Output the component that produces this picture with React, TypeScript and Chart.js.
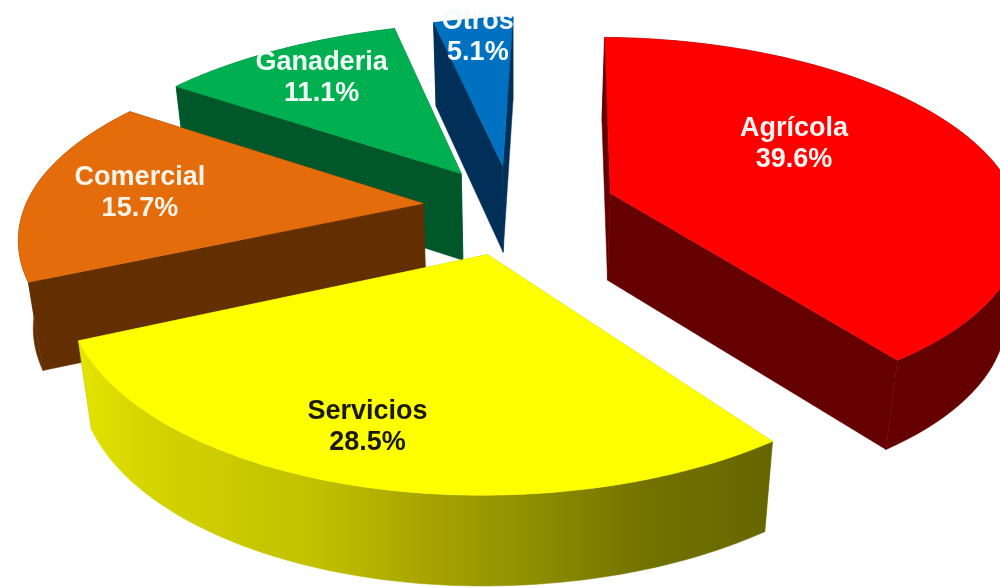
import React, { useEffect, useRef } from "react";
import { Chart, registerables } from "chart.js";

Chart.register(...registerables);

const categories = ["Agrícola", "Servicios", "Comercial", "Ganaderia", "Otros"];
const shares = [39.6, 28.5, 15.7, 11.1, 5.1];
const percentLabels = ["39.6%", "28.5%", "15.7%", "11.1%", "5.1%"];
const topColors = ["#ff0000", "#ffff00", "#e46c0a", "#00b050", "#0070c0"];
const sideColors = ["#640000", "#a8a800", "#632f00", "#00582a", "#003058"];
const labelColors = ["#fff4f0", "#1a1a00", "#fff4e8", "#f2fff6", "#f4fbff"];
const explodeOffsets = [62, 64, 58, 58, 58];
const yellowSideStops: [number, string][] = [
  [0, "#e4e400"],
  [0.1, "#d4d400"],
  [0.35, "#c0c000"],
  [0.5, "#a8a400"],
  [0.65, "#8f8f00"],
  [0.82, "#727200"],
  [1, "#666600"],
];
const labelReach = [0.565, 0.79, 0.725, 0.75, 0.86];
const labelTurn = [-13, 3, 0, 1, -1];

// Oblique, perspective view of the pie's plane.
const VIEW = {
  cx: 515,
  cy: 207,
  sx: 408,
  sy: 185,
  persp: 0.16,
  leftScale: 0.976,
  backLean: 20,
  shrink: 0.97,
  depth: 87,
  depthSlope: 3,
};
const RADIUS = 250;

function project(X: number, V: number, lower: boolean) {
  const f = 1 / (1 - VIEW.persp * V);
  let x = VIEW.sx * X * f * (X < 0 ? VIEW.leftScale : 1);
  let y = VIEW.sy * V * f;
  if (V < 0 && X < 0) {
    // the far-left part of the plane leans towards the centre
    x += VIEW.backLean * V * V * Math.min(1, -X / 0.2);
  }
  if (lower) {
    x *= VIEW.shrink;
    y += VIEW.depth + VIEW.depthSlope * V;
  }
  return { x: VIEW.cx + x, y: VIEW.cy + y };
}

const pie3d = {
  id: "pie3d",
  beforeDatasetDraw(chart: any) {
    const ctx: CanvasRenderingContext2D = chart.ctx;
    const arcs: any[] = chart.getDatasetMeta(0).data;
    const order = arcs
      .map((arc, i) => ({ arc, i, mid: (arc.startAngle + arc.endAngle) / 2 }))
      .sort((a, b) => Math.sin(a.mid) - Math.sin(b.mid));

    for (const { arc, i, mid } of order) {
      const e = (arc.options.offset || 0) / arc.outerRadius;
      const ax = e * Math.cos(mid);
      const av = e * Math.sin(mid);
      const rim: [number, number][] = [];
      const steps = 72;
      for (let s = 0; s <= steps; s++) {
        const t = arc.startAngle + ((arc.endAngle - arc.startAngle) * s) / steps;
        rim.push([ax + Math.cos(t), av + Math.sin(t)]);
      }
      const poly = (pts: { x: number; y: number }[], fill: any) => {
        ctx.beginPath();
        pts.forEach((p, n) => (n ? ctx.lineTo(p.x, p.y) : ctx.moveTo(p.x, p.y)));
        ctx.closePath();
        ctx.fillStyle = fill;
        ctx.fill();
        ctx.strokeStyle = fill;
        ctx.lineWidth = 0.5;
        ctx.stroke();
      };

      const a0 = project(ax, av, false);
      const a1 = project(ax, av, true);
      const first = rim[0];
      const last = rim[rim.length - 1];
      // radial walls
      poly([a0, project(first[0], first[1], false), project(first[0], first[1], true), a1], sideColors[i]);
      poly([a0, project(last[0], last[1], false), project(last[0], last[1], true), a1], sideColors[i]);
      // curved outer wall
      const upper = rim.map((p) => project(p[0], p[1], false));
      const lower = rim.map((p) => project(p[0], p[1], true)).reverse();
      let sideFill: any = sideColors[i];
      if (i === 1) {
        const xs = upper.map((p) => p.x);
        const g = ctx.createLinearGradient(Math.min(...xs), 0, Math.max(...xs), 0);
        yellowSideStops.forEach(([o, c]) => g.addColorStop(o, c));
        sideFill = g;
      }
      poly([...upper, ...lower], sideFill);
      // top face
      poly([a0, ...upper], arc.options.backgroundColor);
    }
    return false;
  },
  afterDatasetsDraw(chart: any) {
    const ctx: CanvasRenderingContext2D = chart.ctx;
    const arcs: any[] = chart.getDatasetMeta(0).data;
    ctx.save();
    ctx.font = 'bold 27px "Liberation Sans", Arial, sans-serif';
    ctx.textAlign = "center";
    ctx.textBaseline = "middle";
    arcs.forEach((arc, i) => {
      const mid = (arc.startAngle + arc.endAngle) / 2;
      const e = (arc.options.offset || 0) / arc.outerRadius;
      const r = labelReach[i];
      const t = mid + (labelTurn[i] * Math.PI) / 180;
      const p = project(e * Math.cos(mid) + r * Math.cos(t), e * Math.sin(mid) + r * Math.sin(t), false);
      ctx.fillStyle = labelColors[i];
      ctx.fillText(categories[i], p.x, p.y - 15);
      ctx.fillText(percentLabels[i], p.x, p.y + 16);
    });
    ctx.restore();
  },
};

export default function App() {
  const ref = useRef<HTMLCanvasElement>(null);
  useEffect(() => {
    const chart = new Chart(ref.current as HTMLCanvasElement, {
      type: "pie",
      data: {
        labels: categories,
        datasets: [
          {
            data: shares,
            backgroundColor: topColors,
            borderWidth: 0,
            offset: explodeOffsets,
          },
        ],
      },
      options: {
        responsive: false,
        animation: false,
        rotation: 1.2,
        radius: RADIUS,
        layout: { padding: 0 },
        plugins: { legend: { display: false }, tooltip: { enabled: false } },
      },
      plugins: [pie3d],
    } as any);
    return () => chart.destroy();
  }, []);
  return (
    <div style={{ position: "absolute", left: 0, top: 0, width: 1000, height: 587, background: "#fff", overflow: "hidden" }}>
      <canvas ref={ref} width={1000} height={587} style={{ display: "block", filter: "blur(0.6px)" }} />
    </div>
  );
}
